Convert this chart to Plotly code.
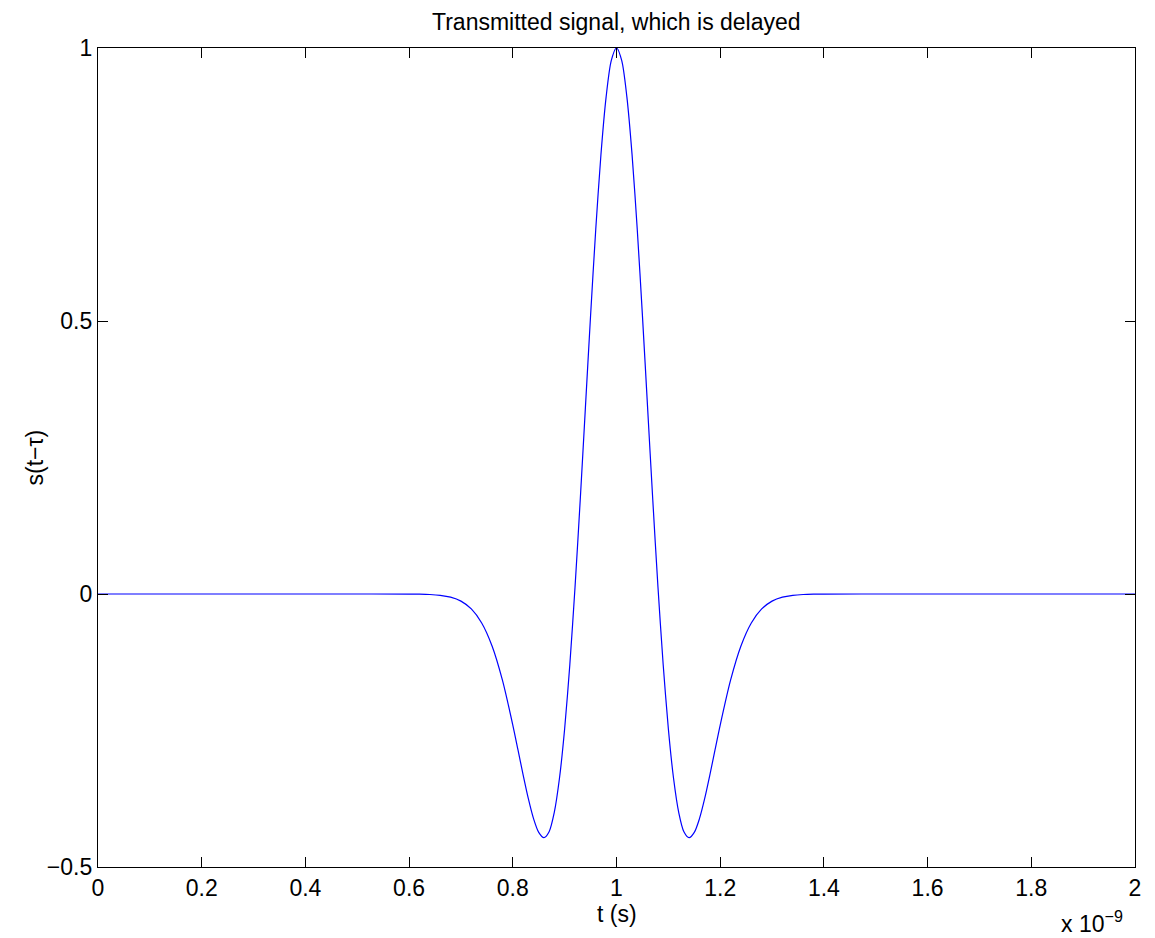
import plotly.graph_objects as go

# time axis in units of 1e-9 s (as shown with the "x 10^-9" multiplier)
t_ns = [0.0, 0.5, 0.60, 0.62, 0.64, 0.66, 0.68, 0.70, 0.72, 0.74, 0.76, 0.78, 0.80,
        0.81, 0.82, 0.83, 0.84, 0.85, 0.86, 0.87, 0.88, 0.89, 0.90,
        0.91, 0.92, 0.93, 0.94, 0.95, 0.96, 0.97, 0.98, 0.99, 1.00,
        1.01, 1.02, 1.03, 1.04, 1.05, 1.06, 1.07, 1.08, 1.09, 1.10,
        1.11, 1.12, 1.13, 1.14, 1.15, 1.16, 1.17, 1.18, 1.19, 1.20,
        1.22, 1.24, 1.26, 1.28, 1.30, 1.32, 1.34, 1.36, 1.38, 1.40, 1.5, 2.0]

s_values = [0.0, 0.0, -0.0001, -0.0003, -0.0009, -0.0024, -0.0058, -0.0130, -0.0273, -0.0530, -0.0952, -0.1578, -0.2400,
            -0.2857, -0.3317, -0.3749, -0.4115, -0.4367, -0.4463, -0.4354, -0.4000, -0.3375, -0.2468,
            -0.1290, 0.0125, 0.1718, 0.3409, 0.5099, 0.6681, 0.8048, 0.9105, 0.9772, 1.0,
            0.9772, 0.9105, 0.8048, 0.6681, 0.5099, 0.3409, 0.1718, 0.0125, -0.1290, -0.2468,
            -0.3375, -0.4000, -0.4354, -0.4463, -0.4367, -0.4115, -0.3749, -0.3317, -0.2857, -0.2400,
            -0.1578, -0.0952, -0.0530, -0.0273, -0.0130, -0.0058, -0.0024, -0.0009, -0.0003, -0.0001, 0.0, 0.0]

x_ticks = [0, 0.2, 0.4, 0.6, 0.8, 1.0, 1.2, 1.4, 1.6, 1.8, 2.0]
x_tick_labels = ["0", "0.2", "0.4", "0.6", "0.8", "1", "1.2", "1.4", "1.6", "1.8", "2"]
y_ticks = [-0.5, 0, 0.5, 1]
y_tick_labels = ["\u22120.5", "0", "0.5", "1"]

FONT = "Liberation Sans, Arial, Helvetica, sans-serif"
FS = 23

fig = go.Figure()
fig.add_trace(go.Scatter(
    x=t_ns, y=s_values, mode="lines",
    line=dict(color="#0000ff", width=1.2, shape="spline", smoothing=0.8),
    showlegend=False, hoverinfo="skip",
))

axis_common = dict(
    showline=True, linecolor="black", linewidth=1.3, mirror="ticks",
    ticks="inside", ticklen=10, tickwidth=1, tickcolor="black",
    showgrid=False, zeroline=False,
    tickfont=dict(family=FONT, size=FS, color="black"),
)

fig.update_xaxes(range=[0, 2], tickvals=x_ticks, ticktext=x_tick_labels, **axis_common)
fig.update_yaxes(range=[-0.5, 1], tickvals=y_ticks, ticktext=y_tick_labels, **axis_common)

fig.update_layout(
    width=1155, height=938,
    margin=dict(l=98, r=20, t=48, b=71, pad=0),
    plot_bgcolor="white", paper_bgcolor="white",
    font=dict(family=FONT, size=FS, color="black"),
    annotations=[
        dict(text="Transmitted signal, which is delayed", xref="paper", yref="paper",
             x=0.5, y=1, xanchor="center", yanchor="middle", yshift=26,
             showarrow=False, font=dict(family=FONT, size=FS, color="black")),
        dict(text="t (s)", xref="paper", yref="paper", x=0.5, y=0,
             xanchor="center", yanchor="middle", yshift=-47,
             showarrow=False, font=dict(family=FONT, size=FS, color="black")),
        dict(text="s(t\u2212\u03c4)", xref="paper", yref="paper", x=0, y=0.5,
             xanchor="center", yanchor="middle", xshift=-64, textangle=-90,
             showarrow=False, font=dict(family=FONT, size=FS, color="black")),
        dict(text="x 10<sup>\u22129</sup>",
             xref="paper", yref="paper", x=1, y=0,
             xanchor="right", yanchor="middle", yshift=-55, xshift=-10,
             showarrow=False, font=dict(family=FONT, size=FS, color="black")),
    ],
)

fig.write_html("out.html")
